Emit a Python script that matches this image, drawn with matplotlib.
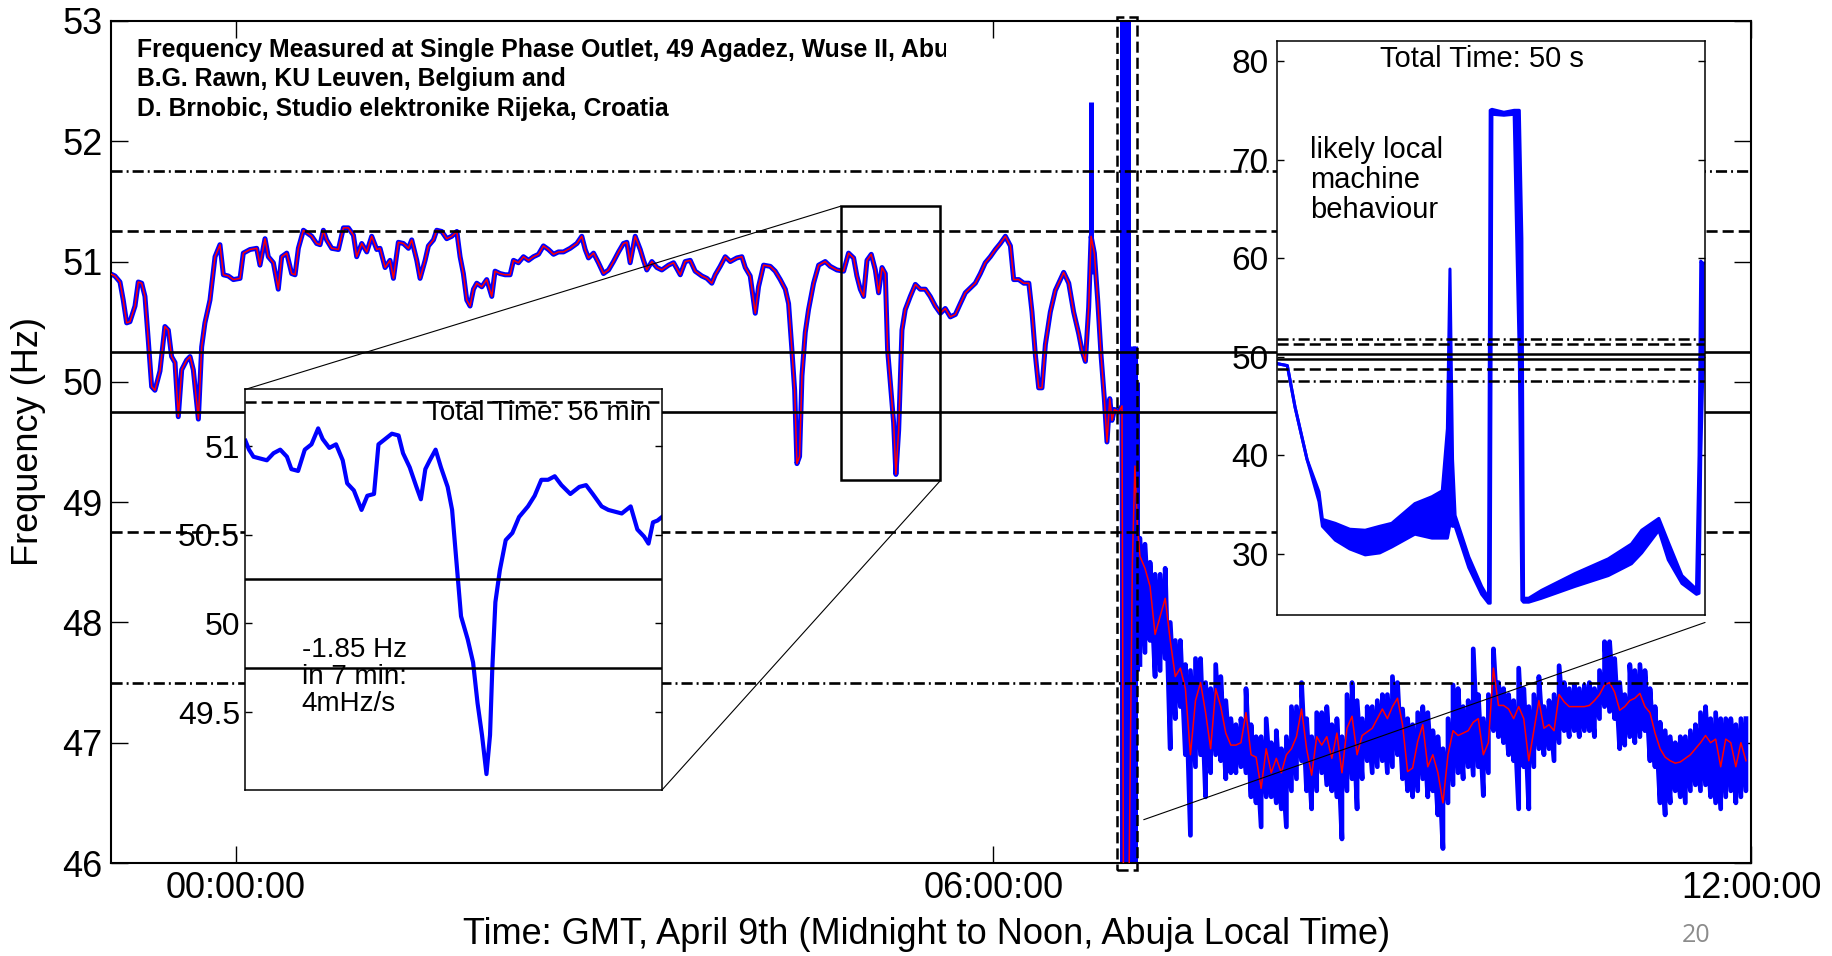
import numpy as np
import matplotlib.pyplot as plt
from matplotlib.patches import Rectangle, ConnectionPatch
from matplotlib.transforms import Bbox, TransformedBbox

plt.rcParams['font.family'] = ['Liberation Sans', 'DejaVu Sans']
plt.rcParams['lines.scale_dashes'] = False

# main trace before the crash: (hours from midnight GMT, Hz)
night_pts = [
    (-0.998, 50.90), (-0.959, 50.88), (-0.919, 50.83), (-0.893, 50.68), (-0.866, 50.49),
    (-0.840, 50.50), (-0.800, 50.63), (-0.774, 50.83), (-0.747, 50.82), (-0.721, 50.71),
    (-0.695, 50.35), (-0.668, 49.96), (-0.642, 49.93), (-0.602, 50.09), (-0.563, 50.46),
    (-0.536, 50.43), (-0.510, 50.21), (-0.483, 50.16), (-0.457, 49.71), (-0.430, 50.10),
    (-0.391, 50.18), (-0.364, 50.21), (-0.338, 50.10), (-0.298, 49.69), (-0.272, 50.29),
    (-0.246, 50.49), (-0.206, 50.68), (-0.166, 51.04), (-0.127, 51.14), (-0.100, 50.89),
    (-0.061, 50.88), (-0.021, 50.85), (0.032, 50.86), (0.058, 51.07), (0.111, 51.10),
    (0.164, 51.11), (0.190, 50.97), (0.230, 51.19), (0.256, 51.04), (0.296, 50.99),
    (0.335, 50.77), (0.362, 51.04), (0.402, 51.07), (0.441, 50.90), (0.468, 50.89),
    (0.494, 51.11), (0.534, 51.26), (0.560, 51.24), (0.600, 51.21), (0.639, 51.15),
    (0.666, 51.14), (0.692, 51.26), (0.718, 51.18), (0.758, 51.11), (0.811, 51.10),
    (0.851, 51.28), (0.890, 51.28), (0.930, 51.22), (0.956, 51.04), (0.996, 51.15),
    (1.036, 51.08), (1.075, 51.21), (1.115, 51.10), (1.141, 51.11), (1.181, 50.95),
    (1.220, 51.01), (1.247, 50.86), (1.286, 51.16), (1.326, 51.15), (1.366, 51.11),
    (1.392, 51.18), (1.432, 51.01), (1.458, 50.86), (1.498, 51.01), (1.524, 51.13),
    (1.564, 51.18), (1.590, 51.26), (1.630, 51.25), (1.669, 51.19), (1.709, 51.21),
    (1.749, 51.25), (1.775, 51.04), (1.801, 50.90), (1.828, 50.68), (1.854, 50.63),
    (1.881, 50.77), (1.907, 50.82), (1.947, 50.79), (1.986, 50.85), (2.026, 50.71),
    (2.052, 50.92), (2.092, 50.90), (2.132, 50.89), (2.171, 50.89), (2.198, 51.01),
    (2.237, 50.99), (2.277, 51.04), (2.317, 51.01), (2.356, 51.04), (2.396, 51.06),
    (2.435, 51.13), (2.475, 51.10), (2.515, 51.06), (2.554, 51.08),
]
morning_pts = [
    (2.594, 51.08), (2.647, 51.11), (2.700, 51.15), (2.739, 51.21), (2.766, 51.10),
    (2.792, 51.03), (2.832, 51.07), (2.871, 50.99), (2.911, 50.90), (2.951, 50.93),
    (2.990, 51.00), (3.030, 51.08), (3.069, 51.15), (3.096, 51.16), (3.122, 50.99),
    (3.162, 51.21), (3.202, 51.10), (3.228, 51.01), (3.254, 50.93), (3.294, 51.00),
    (3.334, 50.95), (3.373, 50.93), (3.426, 50.97), (3.466, 50.99), (3.519, 50.89),
    (3.558, 51.00), (3.598, 51.01), (3.637, 50.92), (3.690, 50.88), (3.730, 50.86),
    (3.769, 50.82), (3.796, 50.89), (3.835, 50.96), (3.875, 51.04), (3.915, 51.00),
    (3.967, 51.03), (4.007, 51.04), (4.034, 50.95), (4.073, 50.88), (4.113, 50.57),
    (4.139, 50.79), (4.179, 50.97), (4.232, 50.96), (4.271, 50.92), (4.311, 50.85),
    (4.351, 50.77), (4.377, 50.65), (4.403, 50.27), (4.425, 49.93), (4.443, 49.32),
    (4.464, 49.38), (4.483, 50.05), (4.509, 50.41), (4.535, 50.60), (4.575, 50.82),
    (4.615, 50.97), (4.667, 51.00), (4.707, 50.96), (4.760, 50.93), (4.813, 50.92),
    (4.852, 51.07), (4.892, 51.03), (4.918, 50.88), (4.945, 50.77), (4.971, 50.71),
    (4.998, 51.01), (5.032, 51.06), (5.064, 50.93), (5.090, 50.74), (5.117, 50.95),
    (5.143, 50.90), (5.161, 50.27), (5.183, 49.99), (5.209, 49.66), (5.227, 49.23),
    (5.249, 49.60), (5.275, 50.43), (5.301, 50.60), (5.341, 50.71), (5.381, 50.81),
    (5.420, 50.77), (5.460, 50.77), (5.499, 50.71), (5.539, 50.63), (5.579, 50.57),
    (5.618, 50.61), (5.658, 50.54), (5.698, 50.56), (5.737, 50.65), (5.777, 50.74),
    (5.817, 50.78), (5.856, 50.82), (5.896, 50.90), (5.935, 50.99), (5.975, 51.04),
    (6.015, 51.10), (6.054, 51.15), (6.094, 51.21), (6.134, 51.13),
]
crash_pts = [
    (6.160, 50.85), (6.200, 50.85), (6.240, 50.82), (6.280, 50.82), (6.305, 50.58),
    (6.332, 50.22), (6.358, 49.95), (6.384, 49.95), (6.411, 50.31), (6.450, 50.58),
    (6.490, 50.76), (6.530, 50.85), (6.556, 50.91), (6.596, 50.82), (6.635, 50.58),
    (6.675, 50.40), (6.701, 50.26), (6.728, 50.17), (6.754, 50.62), (6.773, 51.21),
    (6.799, 51.07), (6.826, 50.67), (6.852, 50.22), (6.878, 49.86), (6.899, 49.50),
    (6.921, 49.86), (6.939, 49.68), (6.958, 49.77), (6.992, 49.75), (7.018, 49.80),
    (7.030, 45.50), (7.070, 45.50), (7.100, 48.50), (7.120, 49.30), (7.140, 48.80),
]

# after the crash, one sample every 0.04 h from 7.16 h
post_start, post_step = 7.16, 0.04
post_red = [
    48.55, 48.45, 48.30, 47.90, 48.05, 48.20, 47.85, 47.55, 47.62, 47.45,
    46.90, 47.35, 47.50, 47.25, 46.95, 47.45, 47.30, 47.08, 46.98, 46.98,
    47.00, 47.25, 46.90, 46.88, 46.62, 46.95, 46.75, 46.87, 46.75, 46.90,
    46.95, 47.05, 47.28, 46.95, 46.73, 47.05, 46.98, 47.05, 46.87, 47.08,
    46.75, 47.12, 47.22, 46.90, 47.06, 47.09, 47.12, 47.20, 47.28, 47.20,
    47.30, 47.37, 47.15, 46.76, 46.79, 47.01, 47.15, 46.80, 46.90, 46.75,
    46.50, 46.90, 47.10, 47.06, 47.08, 47.10, 47.17, 47.20, 46.90, 47.00,
    47.62, 47.31, 47.31, 47.28, 47.20, 47.30, 47.20, 46.85, 47.10, 47.35,
    47.12, 47.15, 47.10, 47.40, 47.34, 47.30, 47.30, 47.30, 47.30, 47.31,
    47.35, 47.40, 47.48, 47.50, 47.42, 47.27, 47.30, 47.35, 47.37, 47.41,
    47.30, 47.25, 47.08, 46.95, 46.88, 46.85, 46.83, 46.84, 46.87, 46.90,
    46.95, 47.00, 47.06, 47.00, 47.03, 46.80, 47.03, 47.00, 46.80, 47.00,
    46.85,
]
post_hi = [
    48.70, 48.65, 48.50, 48.40, 48.40, 48.45, 48.00, 47.85, 47.85, 47.65,
    47.60, 47.70, 47.70, 47.50, 47.45, 47.65, 47.55, 47.35, 47.20, 47.15,
    47.20, 47.45, 47.15, 47.05, 47.05, 47.20, 47.00, 47.10, 46.95, 47.05,
    47.30, 47.30, 47.50, 47.20, 47.05, 47.25, 47.25, 47.30, 47.15, 47.20,
    47.05, 47.40, 47.50, 47.35, 47.20, 47.30, 47.30, 47.35, 47.40, 47.40,
    47.55, 47.50, 47.28, 47.20, 47.15, 47.25, 47.30, 47.25, 47.10, 47.05,
    46.95, 47.20, 47.48, 47.45, 47.30, 47.35, 47.78, 47.40, 47.20, 47.40,
    47.78, 47.50, 47.45, 47.40, 47.35, 47.62, 47.45, 47.30, 47.40, 47.55,
    47.30, 47.35, 47.40, 47.64, 47.50, 47.45, 47.48, 47.45, 47.48, 47.50,
    47.45, 47.60, 47.84, 47.84, 47.70, 47.50, 47.40, 47.65, 47.60, 47.65,
    47.60, 47.45, 47.30, 47.17, 47.10, 47.05, 47.00, 47.05, 47.05, 47.10,
    47.15, 47.25, 47.30, 47.20, 47.25, 47.20, 47.20, 47.20, 47.15, 47.20,
    47.20,
]
post_lo = [
    47.65, 47.75, 47.85, 47.55, 47.60, 47.70, 46.95, 47.20, 47.30, 46.90,
    46.23, 46.80, 46.90, 46.55, 46.75, 46.90, 46.85, 46.70, 46.75, 46.75,
    46.80, 46.75, 46.55, 46.50, 46.30, 46.55, 46.55, 46.50, 46.45, 46.30,
    46.60, 46.70, 46.85, 46.60, 46.45, 46.60, 46.75, 46.65, 46.60, 46.55,
    46.20, 46.60, 46.70, 46.45, 46.70, 46.85, 46.75, 46.80, 46.85, 46.75,
    46.80, 46.90, 46.70, 46.60, 46.55, 46.60, 46.70, 46.55, 46.60, 46.40,
    46.12, 46.50, 46.65, 46.75, 46.70, 46.80, 46.73, 46.80, 46.56, 46.75,
    47.10, 47.05, 47.00, 46.90, 46.85, 46.45, 46.80, 46.45, 46.80, 46.95,
    46.90, 46.95, 46.85, 47.00, 47.10, 47.05, 47.10, 47.05, 47.10, 47.10,
    47.05, 47.20, 47.30, 47.26, 47.20, 46.95, 46.98, 47.05, 47.00, 47.05,
    47.10, 46.85, 46.80, 46.50, 46.40, 46.50, 46.60, 46.55, 46.50, 46.60,
    46.65, 46.60, 46.65, 46.55, 46.50, 46.45, 46.55, 46.60, 46.50, 46.55,
    46.60,
]

# blue strokes that leave the smoothed trace (hours, low Hz, high Hz)
spike_t = [6.773, 7.020, 7.035, 7.050, 7.065, 7.105, 7.120, 7.135]
spike_lo = [50.90, 45.50, 45.50, 45.50, 45.50, 45.50, 45.50, 47.60]
spike_hi = [52.33, 53.50, 53.50, 53.50, 53.50, 50.30, 50.30, 50.00]

# reference levels
ref_levels = [51.75, 51.25, 50.25, 49.75, 48.75, 47.50]
ref_kinds = ['dashdot', 'dashed', 'solid', 'solid', 'dashed', 'dashdot']

x_ticks = [0, 6, 12]
x_labels = ['00:00:00', '06:00:00', '12:00:00']
y_ticks = [46, 47, 48, 49, 50, 51, 52, 53]

# 56 minute inset (minutes, Hz)
min_t = [0, 0.48, 1.08, 1.98, 2.88, 3.78, 4.68, 5.58, 6.18, 7.08, 7.98, 8.88, 9.78,
         10.38, 11.28, 12.18, 13.08, 13.68, 14.58, 15.61, 16.39, 17.29, 17.89, 18.79,
         19.69, 20.59, 21.19, 22.09, 22.99, 23.59, 24.19, 24.79, 25.57, 26.29, 27.19,
         27.79, 28.39, 28.99, 29.89, 30.61, 31.21, 31.81, 32.41, 32.89, 33.19, 33.61,
         34.21, 35.0, 35.89, 36.79, 37.99, 38.89, 39.79, 40.69, 41.59, 42.49, 43.69,
         44.9, 45.8, 46.7, 47.9, 48.8, 49.7, 50.6, 51.8, 52.7, 53.6, 54.2, 54.8, 55.4, 56.0]
min_f = [51.03, 50.98, 50.94, 50.93, 50.92, 50.96, 50.98, 50.94, 50.87, 50.86, 50.98,
         51.01, 51.10, 51.04, 50.99, 51.01, 50.92, 50.79, 50.75, 50.64, 50.72, 50.73,
         51.01, 51.04, 51.07, 51.06, 50.96, 50.88, 50.77, 50.70, 50.87, 50.92, 50.98,
         50.88, 50.77, 50.64, 50.34, 50.04, 49.91, 49.78, 49.55, 49.37, 49.15, 49.37,
         49.74, 50.12, 50.30, 50.47, 50.51, 50.60, 50.66, 50.72, 50.81, 50.81, 50.83,
         50.78, 50.73, 50.77, 50.78, 50.73, 50.66, 50.64, 50.63, 50.62, 50.66, 50.53,
         50.49, 50.45, 50.57, 50.58, 50.60]
min_yticks = [49.5, 50, 50.5, 51]
min_ylabels = ['49.5', '50', '50.5', '51']

# 50 second inset (seconds, band low / high in Hz)
sec_t = [0, 1.2, 2.1, 3.5, 4.9, 5.3, 6.8, 8.5, 10.3, 12.0, 13.4, 16.1, 18.1, 19.3, 19.9,
         20.2, 20.5, 20.8, 22.4, 23.9, 24.7, 24.9, 25.1, 26.5, 27.7, 28.0, 28.3, 28.6,
         28.8, 29.4, 30.9, 34.8, 38.7, 41.4, 42.6, 44.6, 45.7, 47.3, 49.0, 49.3, 49.5,
         49.7, 49.9]
sec_hi = [49.3, 49.1, 44.9, 39.6, 36.3, 33.5, 33.1, 32.5, 32.4, 32.8, 33.1, 35.1, 35.8,
          36.4, 42.7, 58.9, 39.6, 33.9, 29.7, 26.7, 25.5, 75.0, 75.1, 74.8, 75.0, 75.0,
          75.0, 62.0, 25.5, 25.5, 26.3, 28.0, 29.5, 31.0, 32.4, 33.6, 31.2, 27.8, 26.4,
          40.0, 59.7, 59.5, 59.5]
sec_lo = [49.3, 49.1, 44.9, 39.6, 35.3, 32.8, 31.4, 30.5, 29.9, 30.1, 30.7, 32.0, 31.6,
          31.6, 31.6, 33.0, 32.8, 32.8, 28.6, 25.9, 25.0, 25.0, 74.6, 74.5, 74.6, 62.0,
          50.0, 25.3, 25.1, 25.1, 25.5, 26.7, 27.8, 29.0, 30.1, 32.4, 29.4, 27.0, 25.9,
          26.0, 40.0, 47.0, 50.0]
sec_yticks = [30, 40, 50, 60, 70, 80]

DASH = (0, (8, 3.6))
DASHDOT = (0, (8, 2.9, 1.4, 2.9))
styles = {'solid': '-', 'dashed': DASH, 'dashdot': DASHDOT}


def draw_refs(a, lw=1.9):
    for lev, kind in zip(ref_levels, ref_kinds):
        a.axhline(lev, color='black', lw=lw, ls=styles[kind], zorder=4)


fig = plt.figure(figsize=(18.33, 9.56), dpi=100)
ax = fig.add_axes([0.06056, 0.09728, 0.8947, 0.8808])

calm = night_pts + morning_pts + crash_pts
calm_t = np.array([p[0] for p in calm])
calm_f = np.array([p[1] for p in calm])
t_post = post_start + post_step * np.arange(len(post_red))

ax.plot(calm_t, calm_f, color='blue', lw=3.6, zorder=2)
ax.vlines(spike_t, spike_lo, spike_hi, color='blue', lw=3.6, zorder=2)
zz_t = np.repeat(t_post, 2)
zz_f = np.column_stack([post_lo, post_hi]).ravel()
ax.plot(zz_t, zz_f, color='blue', lw=3.4, zorder=2)
ax.plot(np.concatenate([calm_t, t_post]), np.concatenate([calm_f, post_red]),
        color='red', lw=1.1, zorder=3)
draw_refs(ax)

ax.set_xlim(-0.99, 12.0)
ax.set_ylim(46, 53)
ax.set_xticks(x_ticks)
ax.set_xticklabels(x_labels)
ax.set_yticks(y_ticks)
ax.tick_params(direction='in', length=12, width=1, labelsize=26,
               top=True, right=True)
ax.tick_params(axis='y', pad=6)
ax.tick_params(axis='x', pad=6)
for s in ax.spines.values():
    s.set_linewidth(1.5)

# zoom boxes on the main trace
ax.add_patch(Rectangle((4.79, 49.18), 0.79, 2.28, fill=False, ec='black',
                       lw=1.8, zorder=5))
ax.add_patch(Rectangle((6.975, 45.94), 0.165, 7.09, fill=False, ec='black',
                       lw=1.8, ls=DASH, zorder=5, clip_on=False))

header = ['Frequency Measured at Single Phase Outlet, 49 Agadez, Wuse II, Abuja',
          'B.G. Rawn, KU Leuven, Belgium and',
          'D. Brnobic, Studio elektronike Rijeka, Croatia']
clip = TransformedBbox(Bbox.from_extents(0, 0, 0.509, 1), ax.transAxes)
for i, line in enumerate(header):
    txt = ax.text(0.0159, 0.9656 - 0.0348 * i, line, transform=ax.transAxes,
                  fontsize=17.8, fontweight='bold', va='center', ha='left',
                  zorder=6)
    txt.set_clip_box(clip)
    txt.set_clip_on(True)

# 56 minute inset
ax1 = fig.add_axes([0.1339, 0.1736, 0.2272, 0.4191])
ax1.plot(min_t, min_f, color='blue', lw=3.0, zorder=2)
draw_refs(ax1, lw=1.8)
ax1.set_xlim(0, 56)
ax1.set_ylim(49.06, 51.32)
ax1.set_xticks([])
ax1.set_yticks(min_yticks)
ax1.set_yticklabels(min_ylabels)
ax1.tick_params(direction='in', length=5, width=1, labelsize=23, pad=4,
                right=True)
for s in ax1.spines.values():
    s.set_linewidth(1.1)
ax1.text(0.974, 0.942, 'Total Time: 56 min', transform=ax1.transAxes,
         fontsize=20, ha='right', va='center', zorder=6)
ax1.text(0.135, 0.382, '-1.85 Hz\nin 7 min:\n4mHz/s', transform=ax1.transAxes,
         fontsize=20, ha='left', va='top', linespacing=1.05, zorder=6)

# 50 second inset
ax2 = fig.add_axes([0.6967, 0.3567, 0.2335, 0.6004])
ax2.fill_between(sec_t, sec_lo, sec_hi, color='blue', lw=0, zorder=2)
ax2.plot(sec_t, sec_hi, color='blue', lw=2.2, zorder=2)
ax2.plot(sec_t, sec_lo, color='blue', lw=2.2, zorder=2)
draw_refs(ax2, lw=1.8)
ax2.set_xlim(0, 50)
ax2.set_ylim(23.8, 82.03)
ax2.set_xticks([])
ax2.set_yticks(sec_yticks)
ax2.tick_params(direction='in', length=5, width=1, labelsize=24, pad=6,
                right=True)
for s in ax2.spines.values():
    s.set_linewidth(1.1)
ax2.text(0.479, 0.9695, 'Total Time: 50 s', transform=ax2.transAxes,
         fontsize=21, ha='center', va='center', zorder=6)
ax2.text(0.078, 0.835, 'likely local\nmachine\nbehaviour', transform=ax2.transAxes,
         fontsize=21, ha='left', va='top', linespacing=1.1, zorder=6)

# connector lines
for xa, xb, a_in in [((0, 1), (4.79, 51.46), ax1), ((1, 0), (5.58, 49.18), ax1),
                     ((0, 1), (7.14, 53.03), ax2), ((1, -0.013), (7.19, 46.36), ax2)]:
    con = ConnectionPatch(xyA=xa, coordsA='axes fraction', axesA=a_in,
                          xyB=xb, coordsB='data', axesB=ax,
                          color='black', lw=0.8)
    fig.add_artist(con)

fig.text(29 / 1833, 1 - 442 / 956, 'Frequency (Hz)', rotation=90, fontsize=26,
         ha='center', va='center')
fig.text(927 / 1833, 1 - 935 / 956,
         'Time: GMT, April 9th (Midnight to Noon, Abuja Local Time)',
         fontsize=26, ha='center', va='center')
fig.text(1696 / 1833, 1 - 935 / 956, '20', fontsize=18, color='#8c8c8c',
         family=['Open Sans', 'DejaVu Sans'], ha='center', va='center')

fig.savefig('out.png', dpi=100)
